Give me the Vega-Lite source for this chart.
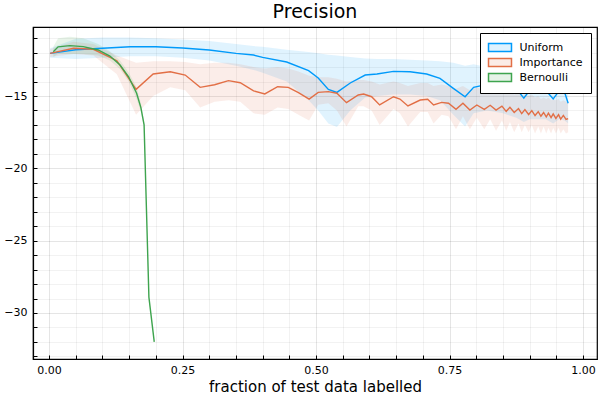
{
  "$schema": "https://vega.github.io/schema/vega-lite/v6.json",
  "width": 564,
  "height": 332,
  "autosize": "none",
  "padding": {"left": 33, "top": 27, "right": 3, "bottom": 41},
  "title": {"text": "Precision", "fontSize": 19, "font": "DejaVu Sans", "fontWeight": "normal", "color": "black", "offset": 5},
  "config": {"view": {"stroke": "black", "strokeWidth": 1.2}, "font": "DejaVu Sans"},
  "data": {
    "values": [
      {"series": "Uniform", "x": 0.002, "y": -12.05, "lo": -12.35, "hi": -11.7},
      {"series": "Uniform", "x": 0.05, "y": -11.8, "lo": -12.45, "hi": -11.05},
      {"series": "Uniform", "x": 0.1, "y": -11.7, "lo": -12.35, "hi": -10.95},
      {"series": "Uniform", "x": 0.152, "y": -11.6, "lo": -12.25, "hi": -10.95},
      {"series": "Uniform", "x": 0.2, "y": -11.6, "lo": -12.25, "hi": -11.0},
      {"series": "Uniform", "x": 0.25, "y": -11.68, "lo": -12.35, "hi": -11.1},
      {"series": "Uniform", "x": 0.3, "y": -11.82, "lo": -12.55, "hi": -11.2},
      {"series": "Uniform", "x": 0.35, "y": -12.05, "lo": -12.9, "hi": -11.4},
      {"series": "Uniform", "x": 0.383, "y": -12.17, "lo": -13.2, "hi": -11.55},
      {"series": "Uniform", "x": 0.4, "y": -12.33, "lo": -13.4, "hi": -11.6},
      {"series": "Uniform", "x": 0.445, "y": -12.65, "lo": -14.0, "hi": -11.8},
      {"series": "Uniform", "x": 0.486, "y": -13.25, "lo": -15.3, "hi": -11.95},
      {"series": "Uniform", "x": 0.504, "y": -13.75, "lo": -16.0, "hi": -12.05},
      {"series": "Uniform", "x": 0.523, "y": -14.55, "lo": -16.9, "hi": -12.15},
      {"series": "Uniform", "x": 0.539, "y": -14.75, "lo": -17.15, "hi": -12.2},
      {"series": "Uniform", "x": 0.564, "y": -14.1, "lo": -16.0, "hi": -12.3},
      {"series": "Uniform", "x": 0.592, "y": -13.55, "lo": -15.1, "hi": -12.4},
      {"series": "Uniform", "x": 0.614, "y": -13.48, "lo": -15.0, "hi": -12.45},
      {"series": "Uniform", "x": 0.645, "y": -13.3, "lo": -14.9, "hi": -12.45},
      {"series": "Uniform", "x": 0.676, "y": -13.32, "lo": -14.9, "hi": -12.5},
      {"series": "Uniform", "x": 0.707, "y": -13.48, "lo": -15.0, "hi": -12.55},
      {"series": "Uniform", "x": 0.732, "y": -13.78, "lo": -15.3, "hi": -12.6},
      {"series": "Uniform", "x": 0.757, "y": -14.47, "lo": -16.3, "hi": -12.7},
      {"series": "Uniform", "x": 0.779, "y": -15.05, "lo": -17.1, "hi": -12.9},
      {"series": "Uniform", "x": 0.795, "y": -14.4, "lo": -16.2, "hi": -12.8},
      {"series": "Uniform", "x": 0.82, "y": -14.2, "lo": -16.0, "hi": -13.0},
      {"series": "Uniform", "x": 0.85, "y": -14.3, "lo": -16.2, "hi": -13.1},
      {"series": "Uniform", "x": 0.875, "y": -14.5, "lo": -16.5, "hi": -13.2},
      {"series": "Uniform", "x": 0.889, "y": -15.15, "lo": -16.8, "hi": -13.6},
      {"series": "Uniform", "x": 0.9, "y": -14.6, "lo": -16.6, "hi": -13.3},
      {"series": "Uniform", "x": 0.93, "y": -14.6, "lo": -16.6, "hi": -13.3},
      {"series": "Uniform", "x": 0.944, "y": -15.2, "lo": -16.9, "hi": -13.6},
      {"series": "Uniform", "x": 0.955, "y": -14.65, "lo": -16.6, "hi": -13.4},
      {"series": "Uniform", "x": 0.965, "y": -14.7, "lo": -16.7, "hi": -13.5},
      {"series": "Uniform", "x": 0.972, "y": -15.5, "lo": -16.9, "hi": -13.9},

      {"series": "Importance", "x": 0.002, "y": -12.05, "lo": -12.3, "hi": -11.75},
      {"series": "Importance", "x": 0.046, "y": -11.7, "lo": -12.1, "hi": -11.25},
      {"series": "Importance", "x": 0.083, "y": -11.77, "lo": -12.2, "hi": -11.4},
      {"series": "Importance", "x": 0.127, "y": -12.56, "lo": -13.5, "hi": -12.2},
      {"series": "Importance", "x": 0.163, "y": -14.54, "lo": -16.3, "hi": -12.7},
      {"series": "Importance", "x": 0.195, "y": -13.48, "lo": -15.0, "hi": -12.6},
      {"series": "Importance", "x": 0.227, "y": -13.32, "lo": -14.4, "hi": -12.6},
      {"series": "Importance", "x": 0.255, "y": -13.55, "lo": -14.6, "hi": -12.65},
      {"series": "Importance", "x": 0.283, "y": -14.4, "lo": -15.8, "hi": -12.8},
      {"series": "Importance", "x": 0.31, "y": -14.22, "lo": -15.4, "hi": -12.7},
      {"series": "Importance", "x": 0.336, "y": -13.94, "lo": -15.3, "hi": -12.7},
      {"series": "Importance", "x": 0.358, "y": -14.08, "lo": -15.4, "hi": -12.8},
      {"series": "Importance", "x": 0.383, "y": -14.65, "lo": -16.2, "hi": -13.0},
      {"series": "Importance", "x": 0.404, "y": -14.86, "lo": -16.3, "hi": -13.1},
      {"series": "Importance", "x": 0.428, "y": -14.36, "lo": -15.8, "hi": -13.0},
      {"series": "Importance", "x": 0.448, "y": -14.4, "lo": -15.9, "hi": -13.1},
      {"series": "Importance", "x": 0.467, "y": -14.77, "lo": -16.3, "hi": -13.3},
      {"series": "Importance", "x": 0.487, "y": -15.21, "lo": -16.7, "hi": -13.6},
      {"series": "Importance", "x": 0.504, "y": -14.75, "lo": -15.6, "hi": -13.7},
      {"series": "Importance", "x": 0.523, "y": -14.7, "lo": -15.5, "hi": -13.7},
      {"series": "Importance", "x": 0.539, "y": -14.81, "lo": -16.0, "hi": -13.8},
      {"series": "Importance", "x": 0.557, "y": -15.46, "lo": -17.1, "hi": -14.0},
      {"series": "Importance", "x": 0.579, "y": -14.93, "lo": -15.7, "hi": -13.9},
      {"series": "Importance", "x": 0.589, "y": -14.86, "lo": -15.7, "hi": -13.9},
      {"series": "Importance", "x": 0.604, "y": -15.05, "lo": -16.0, "hi": -14.0},
      {"series": "Importance", "x": 0.619, "y": -15.62, "lo": -17.0, "hi": -14.2},
      {"series": "Importance", "x": 0.645, "y": -15.05, "lo": -15.9, "hi": -14.0},
      {"series": "Importance", "x": 0.657, "y": -15.21, "lo": -16.2, "hi": -14.1},
      {"series": "Importance", "x": 0.672, "y": -15.69, "lo": -17.1, "hi": -14.3},
      {"series": "Importance", "x": 0.695, "y": -15.28, "lo": -16.1, "hi": -14.1},
      {"series": "Importance", "x": 0.709, "y": -15.23, "lo": -16.1, "hi": -14.1},
      {"series": "Importance", "x": 0.72, "y": -15.62, "lo": -16.9, "hi": -14.3},
      {"series": "Importance", "x": 0.735, "y": -15.44, "lo": -16.3, "hi": -14.2},
      {"series": "Importance", "x": 0.748, "y": -15.5, "lo": -16.4, "hi": -14.3},
      {"series": "Importance", "x": 0.762, "y": -15.92, "lo": -17.3, "hi": -14.5},
      {"series": "Importance", "x": 0.775, "y": -15.5, "lo": -16.4, "hi": -14.3},
      {"series": "Importance", "x": 0.788, "y": -15.97, "lo": -17.3, "hi": -14.6},
      {"series": "Importance", "x": 0.801, "y": -15.62, "lo": -16.5, "hi": -14.4},
      {"series": "Importance", "x": 0.815, "y": -15.92, "lo": -17.3, "hi": -14.6},
      {"series": "Importance", "x": 0.826, "y": -15.64, "lo": -16.6, "hi": -14.5},
      {"series": "Importance", "x": 0.837, "y": -15.97, "lo": -17.4, "hi": -14.7},
      {"series": "Importance", "x": 0.848, "y": -15.7, "lo": -16.7, "hi": -14.6},
      {"series": "Importance", "x": 0.856, "y": -16.06, "lo": -17.4, "hi": -14.8},
      {"series": "Importance", "x": 0.863, "y": -15.78, "lo": -16.8, "hi": -14.7},
      {"series": "Importance", "x": 0.871, "y": -16.14, "lo": -17.5, "hi": -14.9},
      {"series": "Importance", "x": 0.879, "y": -15.87, "lo": -16.9, "hi": -14.8},
      {"series": "Importance", "x": 0.885, "y": -16.22, "lo": -17.5, "hi": -15.0},
      {"series": "Importance", "x": 0.891, "y": -15.94, "lo": -17.0, "hi": -14.9},
      {"series": "Importance", "x": 0.898, "y": -16.28, "lo": -17.5, "hi": -15.0},
      {"series": "Importance", "x": 0.904, "y": -16.01, "lo": -17.0, "hi": -14.9},
      {"series": "Importance", "x": 0.91, "y": -16.35, "lo": -17.6, "hi": -15.1},
      {"series": "Importance", "x": 0.916, "y": -16.08, "lo": -17.1, "hi": -15.0},
      {"series": "Importance", "x": 0.921, "y": -16.4, "lo": -17.6, "hi": -15.2},
      {"series": "Importance", "x": 0.926, "y": -16.14, "lo": -17.1, "hi": -15.1},
      {"series": "Importance", "x": 0.931, "y": -16.45, "lo": -17.6, "hi": -15.2},
      {"series": "Importance", "x": 0.935, "y": -16.19, "lo": -17.2, "hi": -15.1},
      {"series": "Importance", "x": 0.94, "y": -16.5, "lo": -17.6, "hi": -15.3},
      {"series": "Importance", "x": 0.944, "y": -16.24, "lo": -17.2, "hi": -15.2},
      {"series": "Importance", "x": 0.949, "y": -16.55, "lo": -17.6, "hi": -15.3},
      {"series": "Importance", "x": 0.954, "y": -16.29, "lo": -17.2, "hi": -15.2},
      {"series": "Importance", "x": 0.958, "y": -16.6, "lo": -17.6, "hi": -15.4},
      {"series": "Importance", "x": 0.963, "y": -16.34, "lo": -17.3, "hi": -15.3},
      {"series": "Importance", "x": 0.968, "y": -16.62, "lo": -17.6, "hi": -15.4},
      {"series": "Importance", "x": 0.972, "y": -16.56, "lo": -17.5, "hi": -15.4},

      {"series": "Bernoulli", "x": 0.008, "y": -11.94, "lo": -12.3, "hi": -11.6},
      {"series": "Bernoulli", "x": 0.017, "y": -11.6, "lo": -12.1, "hi": -11.0},
      {"series": "Bernoulli", "x": 0.039, "y": -11.52, "lo": -12.1, "hi": -10.9},
      {"series": "Bernoulli", "x": 0.064, "y": -11.59, "lo": -12.1, "hi": -11.0},
      {"series": "Bernoulli", "x": 0.092, "y": -11.82, "lo": -12.2, "hi": -11.4},
      {"series": "Bernoulli", "x": 0.114, "y": -12.24, "lo": -12.55, "hi": -11.9},
      {"series": "Bernoulli", "x": 0.133, "y": -12.86, "lo": -13.15, "hi": -12.55},
      {"series": "Bernoulli", "x": 0.149, "y": -13.67, "lo": -14.0, "hi": -13.35},
      {"series": "Bernoulli", "x": 0.164, "y": -14.81, "lo": -15.2, "hi": -14.4},
      {"series": "Bernoulli", "x": 0.172, "y": -15.8, "lo": -16.1, "hi": -15.5},
      {"series": "Bernoulli", "x": 0.178, "y": -17.0, "lo": -17.2, "hi": -16.8},
      {"series": "Bernoulli", "x": 0.187, "y": -28.9, "lo": -29.0, "hi": -28.8},
      {"series": "Bernoulli", "x": 0.197, "y": -32.0, "lo": -32.05, "hi": -31.95}
    ]
  },
  "encoding": {
    "x": {
      "field": "x",
      "type": "quantitative",
      "scale": {"domain": [-0.03, 1.026], "nice": false, "zero": false},
      "axis": {
        "values": [0, 0.05, 0.1, 0.15, 0.2, 0.25, 0.3, 0.35, 0.4, 0.45, 0.5, 0.55, 0.6, 0.65, 0.7, 0.75, 0.8, 0.85, 0.9, 0.95, 1],
        "labelExpr": "abs(datum.value*4-round(datum.value*4))<0.001 ? format(datum.value,'.2f') : ''",
        "labelOverlap": false,
        "labelFlush": false,
        "labelFont": "DejaVu Sans",
        "labelFontSize": 11,
        "labelColor": "black",
        "labelPadding": 9,
        "tickSize": -4,
        "tickColor": "black",
        "domainColor": "black",
        "domainWidth": 1.2,
        "gridColor": "black",
        "gridOpacity": {"condition": {"test": "abs(datum.value*4-round(datum.value*4))<0.001", "value": 0.1}, "value": 0.05},
        "title": "fraction of test data labelled",
        "titleFont": "DejaVu Sans",
        "titleFontSize": 15,
        "titleFontWeight": "normal",
        "titleColor": "black",
        "titlePadding": 4
      }
    },
    "color": {
      "field": "series",
      "type": "nominal",
      "scale": {"domain": ["Uniform", "Importance", "Bernoulli"], "range": ["#009AFA", "#E26F46", "#3EA44E"]},
      "legend": {
        "title": null,
        "orient": "top-right",
        "offset": 6,
        "padding": 8,
        "strokeColor": "black",
        "fillColor": "white",
        "labelFont": "DejaVu Sans",
        "labelFontSize": 11,
        "labelColor": "black",
        "symbolType": "M-2,-0.7H2V0.7H-2Z",
        "symbolSize": 132,
        "symbolOffset": 5.5,
        "labelOffset": 13,
        "rowPadding": 0,
        "encode": {
          "symbols": {
            "update": {
              "fill": {"scale": "color", "field": "value"},
              "fillOpacity": {"value": 0.13},
              "stroke": {"scale": "color", "field": "value"},
              "strokeWidth": {"value": 1.5},
              "opacity": {"value": 1}
            }
          }
        }
      }
    }
  },
  "layer": [
    {
      "mark": {"type": "area", "fillOpacity": 0.12},
      "encoding": {
        "y": {
          "field": "lo",
          "type": "quantitative",
          "stack": null,
          "scale": {"domain": [-33.18, -10.23], "nice": false, "zero": false},
          "axis": {
            "values": [-33, -32, -31, -30, -29, -28, -27, -26, -25, -24, -23, -22, -21, -20, -19, -18, -17, -16, -15, -14, -13, -12, -11],
            "labelExpr": "datum.value % 5 === 0 ? format(datum.value,'d') : ''",
            "labelOverlap": false,
            "labelFlush": false,
            "labelFont": "DejaVu Sans",
            "labelFontSize": 11,
            "labelColor": "black",
            "labelPadding": 10,
            "tickSize": -4,
            "tickColor": "black",
            "domainColor": "black",
            "domainWidth": 1.2,
            "gridColor": "black",
            "gridOpacity": {"condition": {"test": "datum.value % 5 === 0", "value": 0.1}, "value": 0.05},
            "title": null
          }
        },
        "y2": {"field": "hi"}
      }
    },
    {
      "mark": {"type": "line", "strokeWidth": 1.4},
      "encoding": {
        "y": {
          "field": "y",
          "type": "quantitative",
          "scale": {"domain": [-33.18, -10.23], "nice": false, "zero": false},
          "axis": {
            "values": [-33, -32, -31, -30, -29, -28, -27, -26, -25, -24, -23, -22, -21, -20, -19, -18, -17, -16, -15, -14, -13, -12, -11],
            "labelExpr": "datum.value % 5 === 0 ? format(datum.value,'d') : ''",
            "labelOverlap": false,
            "labelFlush": false,
            "labelFont": "DejaVu Sans",
            "labelFontSize": 11,
            "labelColor": "black",
            "labelPadding": 10,
            "tickSize": -4,
            "tickColor": "black",
            "domainColor": "black",
            "domainWidth": 1.2,
            "gridColor": "black",
            "gridOpacity": {"condition": {"test": "datum.value % 5 === 0", "value": 0.1}, "value": 0.05},
            "title": null
          }
        }
      }
    }
  ]
}
